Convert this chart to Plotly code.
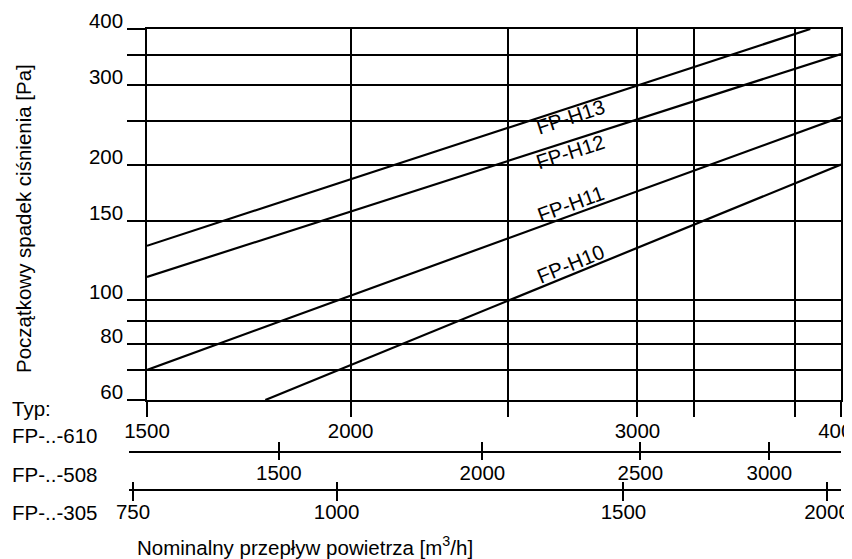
import math
import numpy as np
import plotly.graph_objects as go

# ---------------- data ----------------
series_names = ["FP-H13", "FP-H12", "FP-H11", "FP-H10"]
flow_h13 = [1500, 3830]
dp_h13 = [132, 400]
flow_h12 = [1500, 4000]
dp_h12 = [112.6, 352]
flow_h11 = [1500, 4000]
dp_h11 = [70, 255]
flow_h10 = [1773, 4000]
dp_h10 = [60, 200]

y_tickvals = [60, 80, 100, 150, 200, 300, 400]
y_ticktext = ["60", "80", "100", "150", "200", "300", "400"]
y_minorvals = [70, 90, 250, 350]
x610_tickvals = [1500, 2000, 3000, 4000]
x610_ticktext = ["1500", "2000", "3000", "4000"]
x610_minorvals = [2500, 3250, 3750]
x508_tickvals = [1500, 2000, 2500, 3000]
x508_ticktext = ["1500", "2000", "2500", "3000"]
x305_tickvals = [750, 1000, 1500, 2000]
x305_ticktext = ["750", "1000", "1500", "2000"]
type_labels = ["FP-..-610", "FP-..-508", "FP-..-305"]
flow_factor_508 = 0.83
flow_factor_305 = 0.51
x_range_610 = [1500, 4000]
y_range = [60, 400]

# ---------------- layout constants ----------------
OFF = 8                      # page body margin of the html page
W, H = 852 - OFF, 559 - OFF
ML, MR, MT, MB = 129 - OFF, 11, 29 - OFF, 70
PW, PH = W - ML - MR, H - MT - MB
X_DOM0 = 18 / PW
Y_DOM0 = 89 / PH
POS_508 = 38 / PH
FONT = "Liberation Sans, Arial, Helvetica, sans-serif"
FS = 20.5
BLACK = "#000000"

lx0, lx1 = math.log10(x_range_610[0]), math.log10(x_range_610[1])
ly0, ly1 = math.log10(y_range[0]), math.log10(y_range[1])
ext = (lx1 - lx0) * X_DOM0 / (1 - X_DOM0)
px_dec_x = PW * (1 - X_DOM0) / (lx1 - lx0)
px_dec_y = PH * (1 - Y_DOM0) / (ly1 - ly0)


def scale_range(f):
    return [lx0 + math.log10(f) - ext, lx1 + math.log10(f)]


fig = go.Figure()

series = [(flow_h13, dp_h13), (flow_h12, dp_h12), (flow_h11, dp_h11), (flow_h10, dp_h10)]
for name, (xs, ys) in zip(series_names, series):
    fig.add_trace(go.Scatter(x=xs, y=ys, mode="lines", name=name,
                             line=dict(color=BLACK, width=2.2),
                             showlegend=False, hoverinfo="x+y+name"))

# invisible anchors so the extra flow scales are drawn
for xa, ya, v in [("x2", "y2", x508_tickvals[0]), ("x3", "y2", x508_tickvals[0]),
                  ("x4", "y3", x305_tickvals[1]), ("x5", "y3", x305_tickvals[1])]:
    fig.add_trace(go.Scatter(x=[v], y=[0.5], xaxis=xa, yaxis=ya, mode="markers",
                             marker=dict(size=1, opacity=0), showlegend=False,
                             hoverinfo="skip"))

tickfont = dict(family=FONT, size=FS, color=BLACK)
common_tick = dict(tickfont=tickfont, tickcolor=BLACK, tickwidth=1.5, zeroline=False)
extra_axis = dict(type="log", domain=[0, 1], showgrid=False, showline=True,
                  linecolor=BLACK, linewidth=1.5, automargin=False, **common_tick)

fig.update_layout(
    width=W, height=H,
    margin=dict(l=ML, r=MR, t=MT, b=MB, pad=0),
    paper_bgcolor="white", plot_bgcolor="white",
    font=dict(family=FONT, size=FS, color=BLACK),
    xaxis=dict(type="log", range=[lx0, lx1], domain=[X_DOM0, 1], anchor="y",
               tickmode="array", tickvals=x610_tickvals, ticktext=x610_ticktext,
               ticks="outside", ticklen=15, showgrid=True, gridcolor=BLACK,
               gridwidth=1.5, showline=True, linecolor=BLACK, linewidth=1.5,
               mirror=True, automargin=False, ticklabeloverflow="allow",
               ticklabelstandoff=-3,
               minor=dict(tickmode="array", tickvals=x610_minorvals, ticks="outside",
                          ticklen=15, tickwidth=1.5, tickcolor=BLACK, showgrid=True,
                          gridcolor=BLACK, gridwidth=1.5),
               **common_tick),
    yaxis=dict(type="log", range=[ly0, ly1], domain=[Y_DOM0, 1], anchor="x",
               tickmode="array", tickvals=y_tickvals, ticktext=y_ticktext,
               ticks="outside", ticklen=18, showgrid=True, gridcolor=BLACK,
               gridwidth=1.5, showline=True, linecolor=BLACK, linewidth=1.5,
               mirror=True, automargin=False, ticklabelshift=-8,
               minor=dict(tickmode="array", tickvals=y_minorvals, ticks="outside",
                          ticklen=18, tickwidth=1.5, tickcolor=BLACK, showgrid=True,
                          gridcolor=BLACK, gridwidth=1.5),
               **common_tick),
    yaxis2=dict(domain=[POS_508, POS_508 + 0.001], range=[0, 1], visible=False, anchor="x2"),
    yaxis3=dict(domain=[0, 0.001], range=[0, 1], visible=False, anchor="x4"),
    xaxis2=dict(anchor="y2", range=scale_range(flow_factor_508),
                tickmode="array", tickvals=x508_tickvals, ticktext=x508_ticktext,
                ticks="outside", ticklen=7, ticklabelstandoff=-4, **extra_axis),
    xaxis3=dict(anchor="y2", range=scale_range(flow_factor_508),
                tickmode="array", tickvals=x508_tickvals, ticks="inside", ticklen=9,
                showticklabels=False, **extra_axis),
    xaxis4=dict(anchor="y3", range=scale_range(flow_factor_305),
                tickmode="array", tickvals=x305_tickvals, ticktext=x305_ticktext,
                ticks="outside", ticklen=10, ticklabelstandoff=-6, **extra_axis),
    xaxis5=dict(anchor="y3", range=scale_range(flow_factor_305),
                tickmode="array", tickvals=x305_tickvals, ticks="inside", ticklen=7,
                showticklabels=False, **extra_axis),
)

# series labels rotated along their lines
label_x = 2730
label_shift = [-9, -11, 12, 12]
for name, (xs, ys), sh in zip(series_names, series, label_shift):
    lxs, lys = np.log10(xs), np.log10(ys)
    ly = float(np.interp(math.log10(label_x), lxs, lys))
    slope = (lys[1] - lys[0]) / (lxs[1] - lxs[0])
    ang = -math.degrees(math.atan(slope * px_dec_y / px_dec_x))
    fig.add_annotation(x=math.log10(label_x), y=ly, xref="x", yref="y",
                       text=name, showarrow=False, textangle=ang, yshift=sh,
                       font=dict(family=FONT, size=FS, color=BLACK))


# positions of the side texts, given in the reference picture's pixels
def px(xp):
    return (xp - OFF - ML) / PW


def py(yp):
    return (H - MB - (yp - OFF)) / PH


left_texts = [("Typ:", 408)] + list(zip(type_labels, [435, 474, 513]))
for t, yp in left_texts:
    fig.add_annotation(x=px(10), y=py(yp), xref="paper", yref="paper", text=t,
                       showarrow=False, xanchor="left", yanchor="middle",
                       font=dict(family=FONT, size=FS, color=BLACK))

fig.add_annotation(x=px(24), y=py(219), xref="paper", yref="paper",
                   text="Początkowy spadek ciśnienia [Pa]", textangle=-90,
                   showarrow=False, xanchor="center", yanchor="middle",
                   font=dict(family=FONT, size=FS, color=BLACK))
fig.add_annotation(x=px(135), y=py(546), xref="paper", yref="paper",
                   text="Nominalny przepływ powietrza [m<sup>3</sup>/h]",
                   showarrow=False, xanchor="left", yanchor="middle",
                   font=dict(family=FONT, size=FS, color=BLACK))

fig.write_html("out.html")
